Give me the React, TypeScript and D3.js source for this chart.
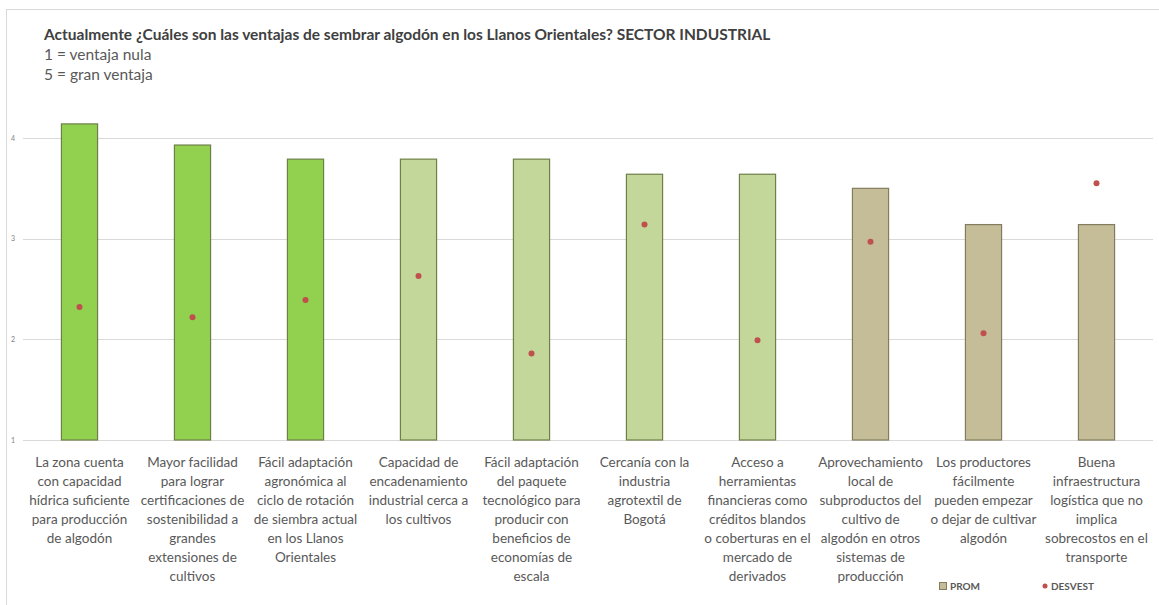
import React, { useRef, useEffect } from 'react';
import * as d3 from 'd3';

const categories = [
  'La zona cuenta\ncon capacidad\nhídrica suficiente\npara producción\nde algodón',
  'Mayor facilidad\npara lograr\ncertificaciones de\nsostenibilidad a\ngrandes\nextensiones de\ncultivos',
  'Fácil adaptación\nagronómica al\nciclo de rotación\nde siembra actual\nen los Llanos\nOrientales',
  'Capacidad de\nencadenamiento\nindustrial cerca a\nlos cultivos',
  'Fácil adaptación\ndel paquete\ntecnológico para\nproducir con\nbeneficios de\neconomías de\nescala',
  'Cercanía con la\nindustria\nagrotextil de\nBogotá',
  'Acceso a\nherramientas\nfinancieras como\ncréditos blandos\no coberturas en el\nmercado de\nderivados',
  'Aprovechamiento\nlocal de\nsubproductos del\ncultivo de\nalgodón en otros\nsistemas de\nproducción',
  'Los productores\nfácilmente\npueden empezar\no dejar de cultivar\nalgodón',
  'Buena\ninfraestructura\nlogística que no\nimplica\nsobrecostos en el\ntransporte',
];
const prom = [4.14, 3.93, 3.79, 3.79, 3.79, 3.64, 3.64, 3.5, 3.14, 3.14];
const desvest = [2.32, 2.22, 2.39, 2.63, 1.86, 3.14, 1.99, 2.97, 2.06, 3.55];
const barColors = ['#92d050', '#92d050', '#92d050', '#c4d79b', '#c4d79b', '#c4d79b', '#c4d79b', '#c4bd97', '#c4bd97', '#c4bd97'];
const yTicks = [1, 2, 3, 4];
const titleLines = [
  'Actualmente ¿Cuáles son las ventajas de sembrar algodón en los Llanos Orientales? SECTOR INDUSTRIAL',
  '1 = ventaja nula',
  '5 = gran ventaja',
];

const App = () => {
  const ref = useRef<SVGSVGElement>(null);

  useEffect(() => {
    const width = 1159;
    const height = 605;
    const svg = d3.select(ref.current).attr('width', width).attr('height', height);
    svg.selectAll('*').remove();
    const font = 'Lato, "Open Sans", sans-serif';

    // chart frame
    svg.append('rect')
      .attr('x', 6.5).attr('y', 9.5)
      .attr('width', 1170).attr('height', 620)
      .attr('fill', '#fff').attr('stroke', '#d9d9d9');

    const x = d3.scaleBand<number>()
      .domain(d3.range(categories.length))
      .range([23, 1153])
      .paddingInner(0.68)
      .paddingOuter(0.34);

    const y = d3.scaleLinear().domain([1, 4]).range([440, 138]);

    // gridlines
    svg.append('g')
      .selectAll('line')
      .data(yTicks)
      .enter()
      .append('line')
      .attr('x1', 23).attr('x2', 1153)
      .attr('y1', (d) => Math.round(y(d)) + 0.5)
      .attr('y2', (d) => Math.round(y(d)) + 0.5)
      .attr('stroke', '#d9d9d9');

    svg.append('g')
      .selectAll('text')
      .data(yTicks)
      .enter()
      .append('text')
      .attr('x', 13)
      .attr('y', (d) => y(d) + 2.5)
      .attr('font-size', 7)
      .attr('font-family', font)
      .attr('fill', '#7f7f7f')
      .attr('text-anchor', 'middle')
      .text((d) => d);

    // bars
    svg.append('g')
      .selectAll('rect')
      .data(prom)
      .enter()
      .append('rect')
      .attr('x', (d, i) => x(i)!)
      .attr('width', x.bandwidth())
      .attr('y', (d) => y(d))
      .attr('height', (d) => y(1) - y(d))
      .attr('fill', (d, i) => barColors[i])
      .attr('stroke', (d, i) => (i >= 7 ? '#837d5f' : '#6e7f48'))
      .attr('stroke-width', 1.2);

    // desvest points
    svg.append('g')
      .selectAll('circle')
      .data(desvest)
      .enter()
      .append('circle')
      .attr('cx', (d, i) => x(i)! + x.bandwidth() / 2)
      .attr('cy', (d) => y(d))
      .attr('r', 3)
      .attr('fill', '#c0504d');

    // category labels
    const labels = svg.append('g')
      .selectAll('text')
      .data(categories)
      .enter()
      .append('text')
      .attr('x', (d, i) => x(i)! + x.bandwidth() / 2)
      .attr('y', 467)
      .attr('text-anchor', 'middle')
      .attr('font-family', font)
      .attr('font-size', 13.5)
      .attr('fill', '#595959');
    labels.each(function (d) {
      const t = d3.select(this);
      const cx = t.attr('x');
      d.split('\n').forEach((line, k) => {
        t.append('tspan').attr('x', cx).attr('dy', k === 0 ? 0 : 19).text(line);
      });
    });

    // title
    svg.append('g')
      .selectAll('text')
      .data(titleLines)
      .enter()
      .append('text')
      .attr('x', 44)
      .attr('y', (d, i) => 40 + i * 20)
      .attr('font-family', font)
      .attr('font-size', 15.5)
      .attr('font-weight', (d, i) => (i === 0 ? 700 : 400))
      .attr('fill', (d, i) => (i === 0 ? '#404040' : '#595959'))
      .text((d) => d);

    // legend
    const legend = svg.append('g').attr('font-family', font).attr('font-size', 10).attr('font-weight', 700).attr('fill', '#595959');
    legend.append('rect')
      .attr('x', 939.5).attr('y', 582.5).attr('width', 7).attr('height', 7)
      .attr('fill', '#c4bd97').attr('stroke', '#837d5f');
    legend.append('text').attr('x', 950).attr('y', 590).text('PROM');
    legend.append('circle').attr('cx', 1045).attr('cy', 586).attr('r', 2.5).attr('fill', '#c0504d');
    legend.append('text').attr('x', 1051).attr('y', 590).text('DESVEST');
  }, []);

  return (
    <svg ref={ref} style={{ position: 'absolute', left: 0, top: 0, display: 'block' }}></svg>
  );
};

export default App;
